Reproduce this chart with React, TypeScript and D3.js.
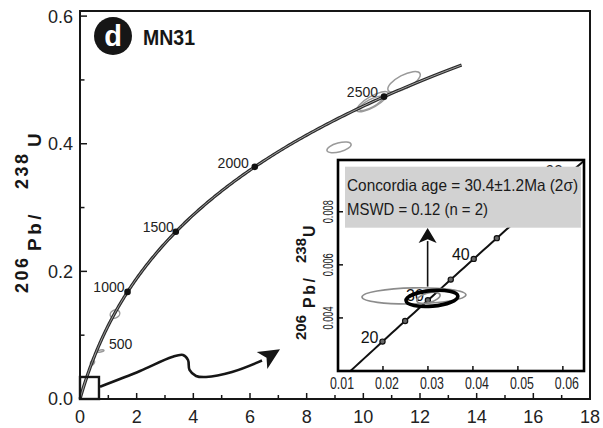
import React from "react";
import * as d3 from "d3";

const W = 603;
const H = 428;

// U decay constants, per Ma
const LAMBDA_238 = 1.55125e-4;
const LAMBDA_235 = 9.8485e-4;

// main concordia diagram
const mainCurveMaxAge = 2713;
const mainLabelAges = [500, 1000, 1500, 2000, 2500];
const mainDotAges = [1000, 1500, 2000, 2500];
const mainXTicks = [0, 2, 4, 6, 8, 10, 12, 14, 16, 18];
const mainXMinor = [1, 3, 5, 7, 9, 11, 13, 15, 17];
const mainYTicks = [0, 0.2, 0.4, 0.6];
const mainYMinor = [0.1, 0.3, 0.5];

// analysis ellipses: centre, half major axis (data units), minor/major ratio
const mainEllipseCx = [10.325, 10.27, 11.437, 9.142, 1.235, 0.441, 0.724];
const mainEllipseCy = [0.466, 0.4632, 0.4969, 0.3942, 0.1332, 0.0572, 0.0752];
const mainEllipseDx = [0.55, 0.405, 0.561, 0.426, 0.153, 0.044, 0.122];
const mainEllipseDy = [0.0141, 0.0096, 0.01324, 0.00508, 0.0039, 0.0034, 0.00095];
const mainEllipseRatio = [0.3, 0.3, 0.38, 0.36, 0.8, 0.7, 0.3];

// zoom box around the origin
const zoomBoxX = [0, 0.67];
const zoomBoxY = [0, 0.0345];

// curved pointer from the zoom box towards the inset
const pointerX = [0.706, 2.118, 3.247, 3.636, 3.812, 3.865, 4.095, 4.448, 5.365, 6.424];
const pointerY = [0.0193, 0.0439, 0.0658, 0.069, 0.0611, 0.0455, 0.0361, 0.0345, 0.0423, 0.0603];
const pointerTip = [7.06, 0.0779];

// inset: young end of the concordia
const insetCurveAges = [10, 70];
const insetMarkerAges = [20, 25, 30, 35, 40, 45, 50, 55, 60];
const insetLabelAges = [20, 30, 40, 60];
const insetXTicks = [0.01, 0.02, 0.03, 0.04, 0.05, 0.06];
const insetYTicks = [0.004, 0.006, 0.008];

const insetEllipseCx = [0.02689, 0.03011, 0.03089];
const insetEllipseCy = [0.00483, 0.004755, 0.004736];
const insetEllipseDx = [0.01156, 0.00258, 0.00576];
const insetEllipseDy = [0.00004, 0.000117, 0.0000857];
const insetEllipseRatio = [0.155, 0.4, 0.3];
const insetEllipseKind = ["single", "single", "mean"];

const insetArrowX = [0.02993, 0.02993];
const insetArrowY = [0.00518, 0.007385];

const resultLines = ["Concordia age = 30.4\u00b11.2Ma (2\u03c3)", "MSWD = 0.12 (n = 2)"];

const concordia = (t: number): [number, number] => [
  Math.exp(LAMBDA_235 * t) - 1,
  Math.exp(LAMBDA_238 * t) - 1,
];

const FONT = "'Liberation Sans', Arial, sans-serif";
const INK = "#161616";

// label placement around age dots (text-anchor, dx, dy in px)
const mainLabelPlace: Record<number, [string, number, number]> = {
  500: ["start", 11, 1],
  1000: ["end", -3, 0],
  1500: ["end", -2, 0],
  2000: ["end", -6, 1],
  2500: ["end", -6, 0],
};

type Sc = d3.ScaleLinear<number, number>;

function ellipseProps(cx: number, cy: number, dx: number, dy: number, ratio: number, sx: Sc, sy: Sc) {
  const px = sx(cx);
  const py = sy(cy);
  const vx = sx(cx + dx) - px;
  const vy = sy(cy + dy) - py;
  const rx = Math.hypot(vx, vy);
  const ang = (Math.atan2(vy, vx) * 180) / Math.PI;
  return { cx: px, cy: py, rx, ry: rx * ratio, transform: `rotate(${ang} ${px} ${py})` };
}

function arrowHead(bx: number, by: number, tx: number, ty: number, half: number) {
  const len = Math.hypot(tx - bx, ty - by);
  const ux = (tx - bx) / len;
  const uy = (ty - by) / len;
  const nx = -uy;
  const ny = ux;
  return `M${tx},${ty}L${bx + nx * half},${by + ny * half}L${bx + ux * len * 0.25},${by + uy * len * 0.25}L${bx - nx * half},${by - ny * half}Z`;
}

export default function App() {
  // main axes
  const x = d3.scaleLinear().domain([0, 18]).range([80, 590]);
  const y = d3.scaleLinear().domain([0, 0.608]).range([399, 11]);

  // inset axes
  const ix = d3.scaleLinear().domain([0.01, 0.0647]).range([338, 584]);
  const iy = d3.scaleLinear().domain([0.002, 0.00995]).range([371, 160]);

  const line = d3
    .line<[number, number]>()
    .x((d) => x(d[0]))
    .y((d) => y(d[1]));

  const mainAges = d3.range(0, mainCurveMaxAge, 10).concat([mainCurveMaxAge]);
  const mainPath = line(mainAges.map(concordia)) || "";

  const insetLine = d3
    .line<[number, number]>()
    .x((d) => ix(d[0]))
    .y((d) => iy(d[1]));
  const insetPath = insetLine(d3.range(insetCurveAges[0], insetCurveAges[1] + 1, 1).map(concordia)) || "";

  const pointerPts: [number, number][] = pointerX.map((v, i) => [x(v), y(pointerY[i])]);
  const pointerPath = d3.line().curve(d3.curveCatmullRom.alpha(0.5))(pointerPts) || "";
  const last = pointerPts[pointerPts.length - 1];
  const tip = [x(pointerTip[0]), y(pointerTip[1])];

  const iL = ix.range()[0];
  const iR = ix.range()[1];
  const iT = iy.range()[1];
  const iB = iy.range()[0];

  const arrowBase = [ix(insetArrowX[0]), iy(insetArrowY[0])];
  const arrowTip = [ix(insetArrowX[1]), iy(insetArrowY[1])];
  const headLen = 15;

  return (
    <svg width={W} height={H} viewBox={`0 0 ${W} ${H}`} style={{ display: "block", position: "absolute", left: 0, top: 0 }} fontFamily={FONT}>
      <rect x={0} y={0} width={W} height={H} fill="#fff" />

      {/* panel badge */}
      <circle cx={113} cy={36} r={19} fill={INK} />
      <text x={113} y={46} textAnchor="middle" fontSize={29} fontWeight="bold" fill="#fff">d</text>
      <text x={143} y={45} fontSize={22} fontWeight="bold" fill={INK} textLength={52} lengthAdjust="spacingAndGlyphs">MN31</text>

      {/* analysis ellipses */}
      {mainEllipseCx.map((cx, i) => {
        const p = ellipseProps(cx, mainEllipseCy[i], mainEllipseDx[i], mainEllipseDy[i], mainEllipseRatio[i], x, y);
        const filled = i === 5;
        return (
          <ellipse key={i} {...p} fill={filled ? "#9a9a9a" : "none"} stroke="#9a9a9a" strokeWidth={1.5} />
        );
      })}

      {/* concordia curve */}
      <path d={mainPath} fill="none" stroke="#2a2a2a" strokeWidth={3.2} />
      <path d={mainPath} fill="none" stroke="#c4c4c4" strokeWidth={0.8} />
      {mainDotAges.map((a) => {
        const [cx, cy] = concordia(a);
        return <circle key={a} cx={x(cx)} cy={y(cy)} r={3.3} fill="#111" />;
      })}
      {mainLabelAges.map((a) => {
        const [cx, cy] = concordia(a);
        const [anchor, dx, dy] = mainLabelPlace[a];
        return (
          <text key={a} x={x(cx) + dx} y={y(cy) + dy} textAnchor={anchor} fontSize={14} fill="#222">
            {a}
          </text>
        );
      })}

      {/* zoom box and pointer */}
      <rect
        x={x(zoomBoxX[0])}
        y={y(zoomBoxY[1])}
        width={x(zoomBoxX[1]) - x(zoomBoxX[0])}
        height={y(zoomBoxY[0]) - y(zoomBoxY[1])}
        fill="none"
        stroke={INK}
        strokeWidth={2.4}
      />
      <path d={pointerPath} fill="none" stroke={INK} strokeWidth={2.6} />
      <path d={arrowHead(last[0], last[1], tip[0], tip[1], 10)} fill={INK} />

      {/* main frame and ticks */}
      <rect x={x(0)} y={y.range()[1]} width={x(18) - x(0)} height={y(0) - y.range()[1]} fill="none" stroke={INK} strokeWidth={2} />
      {mainXTicks.map((t) => (
        <g key={t}>
          <line x1={x(t)} x2={x(t)} y1={y(0)} y2={y(0) - 6} stroke={INK} strokeWidth={1.5} />
          <text x={x(t)} y={423} textAnchor="middle" fontSize={18} fill="#222">{t}</text>
        </g>
      ))}
      {mainXMinor.map((t) => (
        <line key={t} x1={x(t)} x2={x(t)} y1={y(0)} y2={y(0) - 4} stroke={INK} strokeWidth={1.5} />
      ))}
      {mainYTicks.map((t) => (
        <g key={t}>
          <line x1={x(0)} x2={x(0) + 7} y1={y(t)} y2={y(t)} stroke={INK} strokeWidth={1.5} />
          <text x={73} y={y(t)} dy="0.36em" textAnchor="end" fontSize={18} fill="#222">{t.toFixed(1)}</text>
        </g>
      ))}
      {mainYMinor.map((t) => (
        <line key={t} x1={x(0)} x2={x(0) + 4.5} y1={y(t)} y2={y(t)} stroke={INK} strokeWidth={1.5} />
      ))}

      {/* main y title */}
      <g transform="translate(41,293) rotate(-90)" fontWeight="bold" fill={INK}>
        <text x={0} y={-13} fontSize={18} letterSpacing={2.5}>206</text>
        <text x={42} y={0} fontSize={19} letterSpacing={3.5}>Pb/</text>
        <text x={104} y={-13} fontSize={18} letterSpacing={2.5}>238</text>
        <text x={146} y={0} fontSize={19}>U</text>
      </g>

      {/* inset */}
      <g>
        <rect x={iL} y={iT} width={iR - iL} height={iB - iT} fill="#fff" />
        <defs>
          <clipPath id="insetClip">
            <rect x={iL} y={iT} width={iR - iL} height={iB - iT} />
          </clipPath>
        </defs>
        <g clipPath="url(#insetClip)">
          <path d={insetPath} fill="none" stroke="#111" strokeWidth={2} />
          {insetMarkerAges.map((a) => {
            const [cx, cy] = concordia(a);
            return <circle key={a} cx={ix(cx)} cy={iy(cy)} r={2.6} fill="#666" stroke="#111" strokeWidth={1.2} />;
          })}
          {insetLabelAges.map((a) => {
            const [cx, cy] = concordia(a);
            return (
              <text key={a} x={ix(cx) - 4} y={iy(cy) + 1} textAnchor="end" fontSize={16} fill="#111">
                {a}
              </text>
            );
          })}
          {insetEllipseCx.map((cx, i) => {
            const p = ellipseProps(cx, insetEllipseCy[i], insetEllipseDx[i], insetEllipseDy[i], insetEllipseRatio[i], ix, iy);
            const mean = insetEllipseKind[i] === "mean";
            return (
              <ellipse key={i} {...p} fill="none" stroke={mean ? "#000" : "#8c8c8c"} strokeWidth={mean ? 3.6 : 1.6} />
            );
          })}
          <line x1={arrowBase[0]} x2={arrowTip[0]} y1={arrowBase[1]} y2={arrowTip[1] + headLen - 2} stroke="#111" strokeWidth={1.6} />
          <path d={arrowHead(arrowTip[0], arrowTip[1] + headLen, arrowTip[0], arrowTip[1], 9)} fill="#111" />

          {/* result box */}
          <rect x={iL + 7} y={iT + 6.7} width={236} height={61} fill="#d2d2d2" />
          <text x={iL + 9} y={iT + 31} fontSize={16.5} fill="#1a1a1a" textLength={231} lengthAdjust="spacingAndGlyphs">
            {resultLines[0]}
          </text>
          <text x={iL + 9} y={iT + 55} fontSize={16.5} fill="#1a1a1a" textLength={141} lengthAdjust="spacingAndGlyphs">
            {resultLines[1]}
          </text>
        </g>

        {insetXTicks.map((t) => (
          <g key={t}>
            <line x1={ix(t)} x2={ix(t)} y1={iB} y2={iB - 5} stroke="#111" strokeWidth={1.5} />
            <text x={ix(t) + 4} y={389} textAnchor="middle" fontSize={16} fill="#222" textLength={24} lengthAdjust="spacingAndGlyphs">
              {t.toFixed(2)}
            </text>
          </g>
        ))}
        {insetYTicks.map((t) => (
          <g key={t}>
            <line x1={iL} x2={iL + 5} y1={iy(t)} y2={iy(t)} stroke="#111" strokeWidth={1.5} />
            <text
              transform={`translate(333,${iy(t)}) rotate(-90)`}
              textAnchor="middle"
              fontSize={15}
              fill="#222"
              textLength={23}
              lengthAdjust="spacingAndGlyphs"
            >
              {t.toFixed(3)}
            </text>
          </g>
        ))}
        <rect x={iL} y={iT} width={iR - iL} height={iB - iT} fill="none" stroke="#000" strokeWidth={2.6} />

        {/* inset y title */}
        <g transform="translate(315,340) rotate(-90)" fontWeight="bold" fill={INK}>
          <text x={0} y={-9} fontSize={15}>206</text>
          <text x={32} y={0} fontSize={16} letterSpacing={2.5}>Pb/</text>
          <text x={77} y={-9} fontSize={15}>238</text>
          <text x={103} y={0} fontSize={16}>U</text>
        </g>
      </g>
    </svg>
  );
}
